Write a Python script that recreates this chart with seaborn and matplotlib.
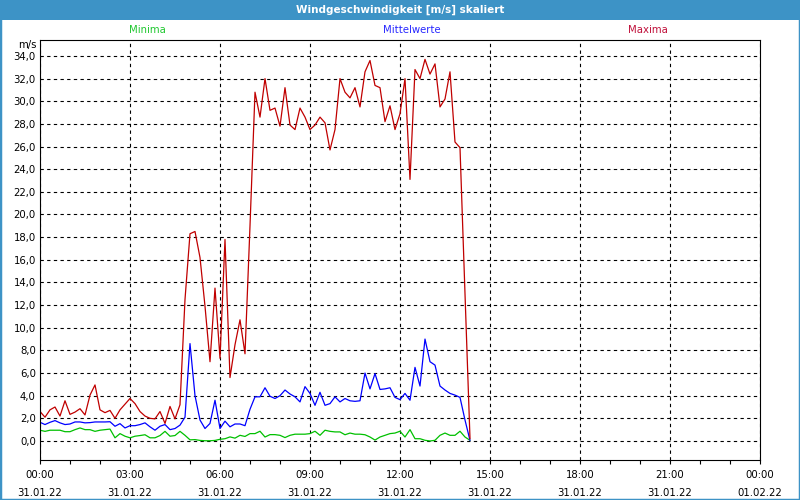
import numpy as np
import pandas as pd
import matplotlib
matplotlib.use("Agg")
import matplotlib.pyplot as plt
import matplotlib.dates as mdates
from matplotlib.ticker import FuncFormatter, MultipleLocator
from matplotlib.patches import Rectangle
import seaborn as sns

# ---------------- data ----------------
titel = "Windgeschwindigkeit [m/s] skaliert"
einheit = "m/s"
reihen = ["Minima", "Mittelwerte", "Maxima"]
start = "2022-01-31 00:00"
ende = "2022-02-01 00:00"
intervall = "10min"

minima = [0.95, 0.85, 0.95, 0.95, 0.95, 0.82, 0.82, 1.0, 1.15, 1.0,
          1.0, 0.85, 0.95, 1.0, 1.05, 0.28, 0.65, 0.42, 0.28, 0.42,
          0.48, 0.55, 0.28, 0.28, 0.48, 0.85, 0.42, 0.48, 0.85, 0.5,
          0.1, 0.12, 0.05, 0.02, 0.02, 0.05, 0.15, 0.2, 0.36, 0.25,
          0.5, 0.4, 0.65, 0.65, 0.86, 0.35, 0.56, 0.56, 0.5, 0.3,
          0.5, 0.6, 0.6, 0.6, 0.65, 0.86, 0.5, 0.95, 0.85, 0.8,
          0.8, 0.55, 0.7, 0.6, 0.6, 0.55, 0.35, 0.08, 0.35, 0.5,
          0.65, 0.7, 0.86, 0.35, 1.0, 0.2, 0.2, 0.06, 0.0, 0.06,
          0.5, 0.7, 0.5, 0.5, 0.86, 0.35, 0.06]

mittelwerte = [1.65, 1.45, 1.65, 1.8, 1.6, 1.45, 1.5, 1.68, 1.68, 1.6,
               1.62, 1.68, 1.68, 1.68, 1.7, 1.3, 1.53, 1.15, 1.35, 1.35,
               1.45, 1.6, 1.25, 0.95, 1.3, 1.45, 1.0, 1.1, 1.4, 2.1,
               8.6, 4.0, 1.85, 1.1, 1.55, 3.6, 1.1, 1.75, 1.25, 1.5,
               1.5, 1.35, 2.8, 3.9, 3.9, 4.7, 3.95, 3.75, 4.0, 4.5,
               4.15, 3.9, 3.45, 4.8, 4.2, 3.15, 4.3, 3.15, 3.3, 3.9,
               3.45, 3.75, 3.55, 3.5, 3.55, 6.0, 4.6, 5.95, 4.55, 4.6,
               4.7, 3.85, 3.65, 4.2, 3.6, 6.5, 4.85, 9.0, 7.0, 6.7,
               4.85, 4.5, 4.2, 4.05, 3.85, 1.85, 0.05]

maxima = [2.6, 2.1, 2.75, 3.0, 2.2, 3.55, 2.35, 2.55, 2.85, 2.3,
          4.05, 4.95, 2.75, 2.5, 2.7, 2.0, 2.75, 3.25, 3.75, 3.3,
          2.6, 2.2, 2.0, 1.95, 2.6, 1.55, 3.05, 1.95, 3.2, 12.5,
          18.3, 18.5, 16.2, 11.9, 7.0, 13.5, 7.3, 17.8, 5.6, 8.5,
          10.7, 7.7, 19.0, 30.8, 28.6, 32.0, 29.2, 29.4, 27.8, 31.2,
          27.9, 27.5, 29.4, 28.6, 27.5, 27.9, 28.6, 28.1, 25.7, 27.5,
          32.0, 30.8, 30.3, 31.2, 29.5, 32.6, 33.6, 31.4, 31.2, 28.2,
          29.6, 27.5, 28.9, 32.0, 23.1, 32.8, 32.0, 33.7, 32.4, 33.3,
          29.5, 30.2, 32.6, 26.4, 25.9, 13.0, 0.2]

farben = {"Minima": "#00c000", "Mittelwerte": "#0000ff", "Maxima": "#c00000"}
textfarben = {"Minima": "#20c830", "Mittelwerte": "#2828ff", "Maxima": "#c0103a"}

zeit = pd.date_range(start, periods=len(maxima), freq=intervall)
df = pd.DataFrame({
    "zeit": np.tile(zeit, 3),
    "wert": minima + mittelwerte + maxima,
    "reihe": np.repeat(reihen, len(zeit)),
})

# ---------------- style ----------------
sns.set_theme(style="white")
plt.rcParams["font.family"] = ["DejaVu Sans"]
plt.rcParams["axes.edgecolor"] = "black"
plt.rcParams["axes.linewidth"] = 0.8

W, H = 800, 500
fig = plt.figure(figsize=(8, 5), dpi=100)
fig.patch.set_facecolor("white")
ax = fig.add_axes([40 / W, 1 - 460 / H, 720 / W, 420 / H])
ax.set_facecolor("white")

sns.lineplot(data=df, x="zeit", y="wert", hue="reihe", hue_order=reihen,
             palette=farben, legend=False, ax=ax, linewidth=0.9,
             estimator=None, errorbar=None)

ax.set_xlim(pd.Timestamp(start), pd.Timestamp(ende))
ax.set_ylim(-1.68, 35.41)
ax.yaxis.set_major_locator(MultipleLocator(2))
ax.yaxis.set_major_formatter(FuncFormatter(lambda v, _: f"{v:.1f}".replace(".", ",")))
ax.xaxis.set_major_locator(mdates.HourLocator(byhour=range(0, 24, 3)))
ax.xaxis.set_minor_locator(mdates.HourLocator())
ax.xaxis.set_major_formatter(mdates.DateFormatter("%H:%M\n%d.%m.%y"))
ax.set_xlabel("")
ax.set_ylabel("")

ax.grid(True, which="major", color="black", linestyle=(0, (3, 3)), linewidth=0.8)
ax.tick_params(axis="x", which="major", direction="out", length=3, width=0.8,
               color="black", labelsize=7.3, pad=4, bottom=True, labelcolor="black")
ax.tick_params(axis="x", which="minor", direction="out", length=3, width=0.8,
               color="black", bottom=True)
ax.tick_params(axis="y", which="both", length=0, labelsize=7.3, pad=3, labelcolor="black")
for lab in ax.get_xticklabels():
    lab.set_linespacing(2.0)
for sp in ax.spines.values():
    sp.set_visible(True)
    sp.set_color("black")

# unit label
fig.text(37 / W, 1 - 45 / H, einheit, ha="right", va="center", fontsize=7.3, color="black")

# series labels (legend row)
for name, xpos in zip(reihen, [147, 412, 648]):
    fig.text(xpos / W, 1 - 30 / H, name, ha="center", va="center",
             fontsize=7.3, color=textfarben[name])

# title bar and window border
bar = "#3d93c6"
fig.patches.append(Rectangle((0, 1 - 20 / H), 1, 20 / H, transform=fig.transFigure,
                             facecolor=bar, edgecolor="none", zorder=0))
fig.text(0.5, 1 - 10 / H, titel, ha="center", va="center", color="white",
         fontsize=7.5, fontweight="bold")
fig.patches.append(Rectangle((0, 0), 1, 1, transform=fig.transFigure, fill=False,
                             edgecolor=bar, linewidth=2.5, zorder=0))

fig.savefig("out.png", dpi=100)
